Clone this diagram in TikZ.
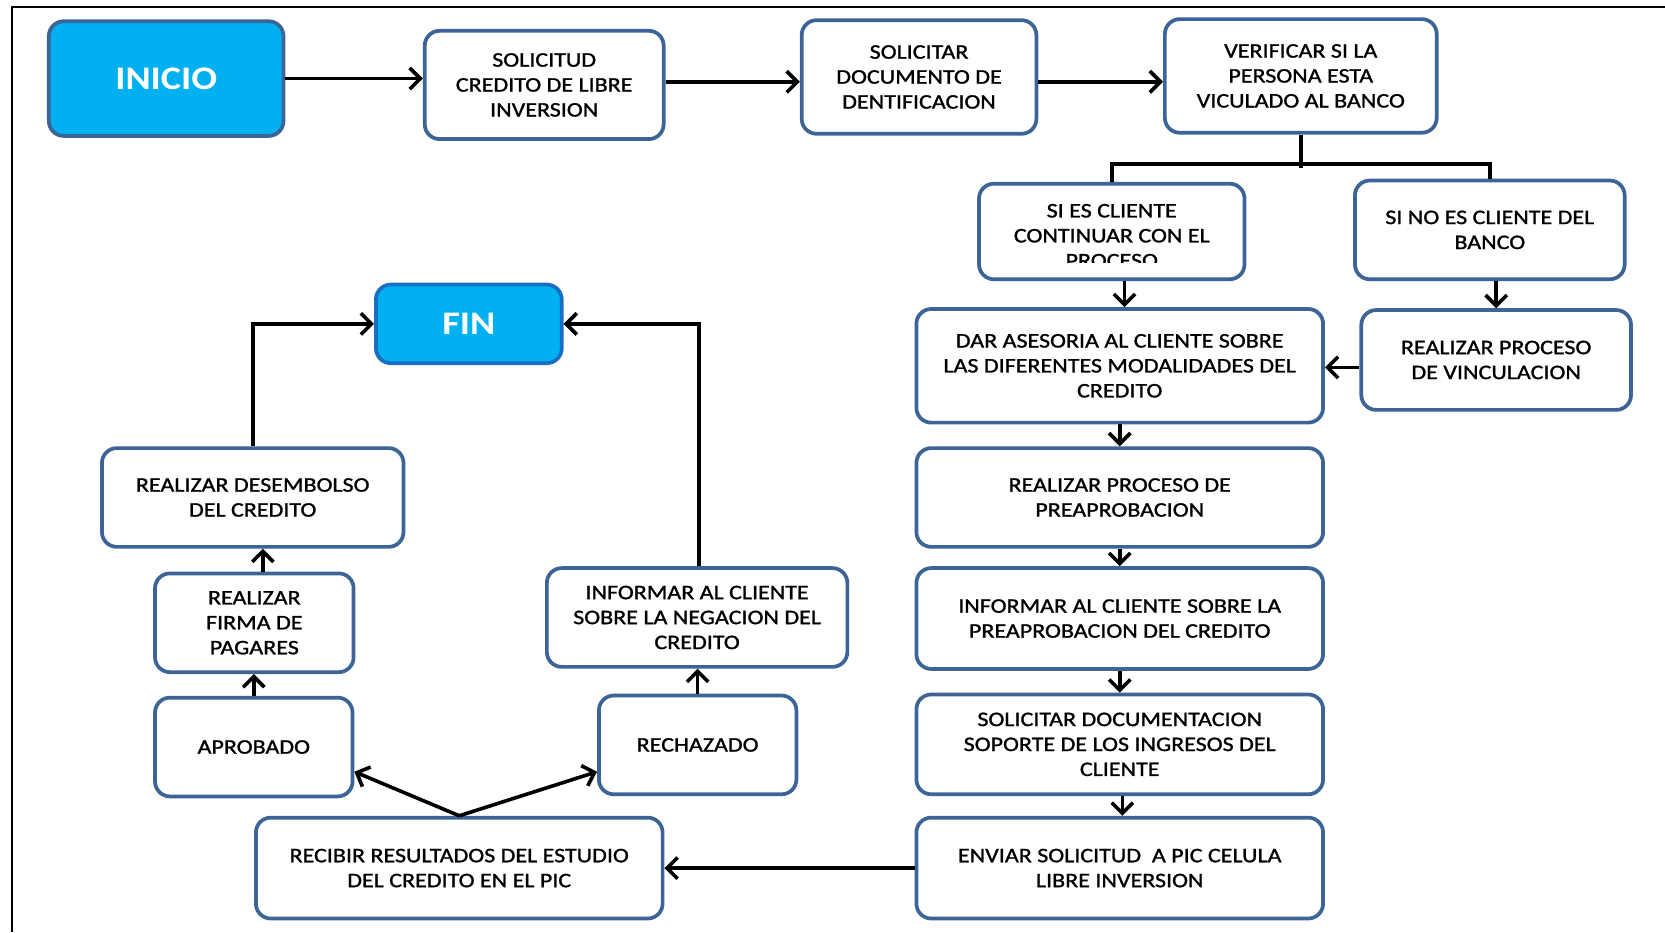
\documentclass[tikz,border=0pt]{standalone}
\usepackage{fontspec}
\setmainfont{Carlito}[FakeStretch=1.16, UprightFeatures={FakeBold=1.2}]
\usetikzlibrary{arrows.meta}

\definecolor{boxline}{RGB}{60,100,150}
\definecolor{startfill}{RGB}{0,176,240}
\definecolor{endline}{RGB}{25,110,195}

\tikzset{
  stepbox/.style={draw=boxline, line width=3.5pt, rounded corners=14pt,
    fill=white, align=center, inner sep=0pt,
    font=\fontsize{19.5}{23.5}\selectfont},
  termbox/.style={stepbox, fill=startfill,
    font=\fontsize{31}{36}\selectfont\bfseries, text=white},
  conn/.style={line width=3.4pt, -{Straight Barb[length=10pt,width=20pt]}},
  plain/.style={line width=3.4pt},
}

\begin{document}
\begin{tikzpicture}[x=1pt, y=-1pt]
\useasboundingbox (0,0) rectangle (1568,878);

% page frame (top and left rules)
\draw[line width=2.2pt] (11,878) -- (11,6.5) -- (1568,6.5);

% top row
\node[termbox, minimum width=221pt, minimum height=108pt] (inicio) at (156.5,74) {INICIO};
\node[stepbox, minimum width=225pt, minimum height=102pt] (sol) at (512.5,80)
  {SOLICITUD\\CREDITO DE LIBRE\\INVERSION};
\node[stepbox, minimum width=221pt, minimum height=107pt] (doc) at (865.5,72.5)
  {SOLICITAR\\DOCUMENTO DE\\DENTIFICACION};
\node[stepbox, minimum width=256pt, minimum height=107pt] (ver) at (1225,71.5)
  {VERIFICAR SI LA\\PERSONA ESTA\\VICULADO AL BANCO};

% branch on the client check
\node[stepbox, minimum width=250pt, minimum height=90pt] (sies) at (1047,218) {};
\begin{scope}
  \clip (925,178) rectangle (1170,247.5);
  \node[align=center, font=\fontsize{19.5}{23.5}\selectfont, inner sep=0pt] (siestxt) at (1047,222)
    {SI ES CLIENTE\\CONTINUAR CON EL\\PROCESO};
\end{scope}
\node[stepbox, minimum width=254pt, minimum height=93pt] (sino) at (1403,216.5)
  {SI NO ES CLIENTE DEL\\BANCO};

% right column
\node[stepbox, minimum width=383pt, minimum height=107pt] (ases) at (1054.5,344.5)
  {DAR ASESORIA AL CLIENTE SOBRE\\LAS DIFERENTES MODALIDADES DEL\\CREDITO};
\node[stepbox, minimum width=254pt, minimum height=94pt] (vinc) at (1409,339)
  {REALIZAR PROCESO\\DE VINCULACION};
\node[stepbox, minimum width=383pt, minimum height=93pt] (preap) at (1054.5,468.5)
  {REALIZAR PROCESO DE\\PREAPROBACION};
\node[stepbox, minimum width=383pt, minimum height=95pt] (infpre) at (1054.5,582.5)
  {INFORMAR AL CLIENTE SOBRE LA\\PREAPROBACION DEL CREDITO};
\node[stepbox, minimum width=383pt, minimum height=94pt] (docs) at (1054.5,701)
  {SOLICITAR DOCUMENTACION\\SOPORTE DE LOS INGRESOS DEL\\CLIENTE};
\node[stepbox, minimum width=383pt, minimum height=95pt] (envi) at (1054.5,817.5)
  {ENVIAR SOLICITUD \ A PIC CELULA\\LIBRE INVERSION};

% results and outcomes
\node[stepbox, minimum width=383pt, minimum height=95pt] (recib) at (432.5,817.5)
  {RECIBIR RESULTADOS DEL ESTUDIO\\DEL CREDITO EN EL PIC};
\node[stepbox, minimum width=186pt, minimum height=93pt] (aprob) at (239,703.5) {APROBADO};
\node[stepbox, minimum width=186pt, minimum height=93pt] (rech) at (657,701.5) {RECHAZADO};
\node[stepbox, minimum width=187pt, minimum height=93pt] (firma) at (239.5,586.5)
  {REALIZAR\\FIRMA DE\\PAGARES};
\node[stepbox, minimum width=283pt, minimum height=93pt] (neg) at (656.5,581.5)
  {INFORMAR AL CLIENTE\\SOBRE LA NEGACION DEL\\CREDITO};
\node[stepbox, minimum width=284pt, minimum height=93pt] (desem) at (238,468.5)
  {REALIZAR DESEMBOLSO\\DEL CREDITO};
\node[termbox, draw=endline, minimum width=175pt, minimum height=74pt] (fin) at (441.5,305) {FIN};

% connectors along the top row
\draw[conn] (inicio.east) -- (inicio.east -| sol.west);
\draw[conn] (sol.east |- 0,77) -- (doc.west |- 0,77);
\draw[conn] (doc.east |- 0,77) -- (ver.west |- 0,77);

% split under the check
\draw[plain] (ver.south) -- ++(0,31);
\draw[plain, line join=miter] (sies.north) -- ++(0,-17) -| (sino.north);

% right column flow
\draw[conn] (sies.south -| 1059,0) -- (ases.north -| 1059,0);
\draw[conn] (sino.south -| vinc.north) -- (vinc.north);
\draw[conn] (vinc.west |- 0,346) -- (ases.east |- 0,346);
\draw[conn] (ases.south) -- (preap.north);
\draw[conn] (preap.south) -- (infpre.north);
\draw[conn] (infpre.south) -- (docs.north);
\draw[conn] (docs.south -| 1057,0) -- (envi.north -| 1057,0);
\draw[conn] (envi.west) -- (recib.east);

% outcomes
\draw[conn] (recib.north) -- ([yshift=25pt]aprob.south east);
\draw[conn] (recib.north) -- ([yshift=23pt]rech.south west);
\draw[conn] (aprob.north) -- (aprob.north |- firma.south);
\draw[conn] ([xshift=8pt]firma.north) -- ([xshift=8pt]firma.north |- desem.south);
\draw[conn] (rech.north) -- (rech.north |- neg.south);
\draw[conn, line join=miter] (desem.north) |- (fin.west);
\draw[conn, line join=miter] (neg.north -| 658,0) |- (fin.east);
\end{tikzpicture}
\end{document}
